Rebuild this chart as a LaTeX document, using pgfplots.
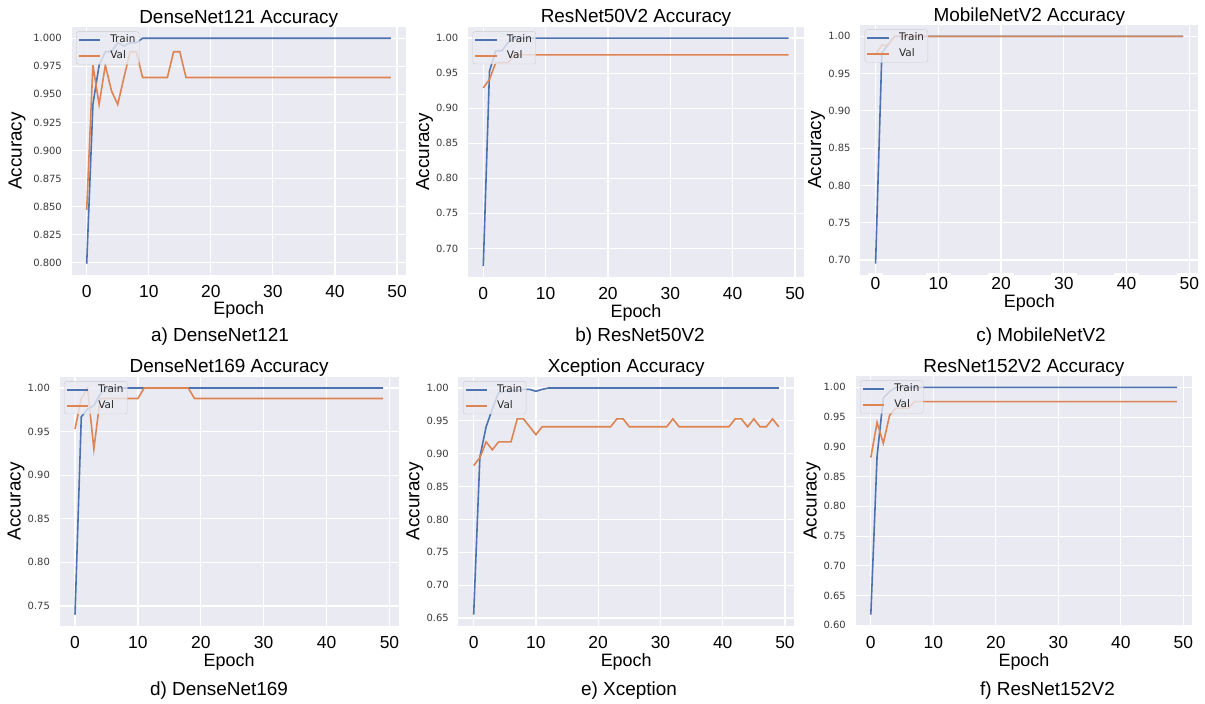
\documentclass[border=0pt]{standalone}
\usepackage{fontspec}
\setmainfont{Liberation Sans}
\newfontfamily\djv{DejaVu Sans}
\usepackage{pgfplots}
\pgfplotsset{compat=1.18}

\definecolor{sbbg}{HTML}{EAEAF2}
\definecolor{sbblue}{HTML}{4C72B0}
\definecolor{sborange}{HTML}{DD8452}
\definecolor{sbtick}{HTML}{3A3A3A}

\pgfplotsset{
  accpanel/.style={
    scale only axis, anchor=north west,
    xmin=-2.45, xmax=51.45, xtick={0,10,20,30,40,50},
    axis background/.style={fill=sbbg},
    axis line style={draw=none},
    major tick length=0pt,
    xmajorgrids, ymajorgrids,
    major grid style={white, line width=1.2bp},
    /pgf/number format/assume math mode=true,
    xticklabel style={font=\fontsize{17.5}{18}\selectfont, anchor=base, yshift=-22.5bp, inner sep=0pt},
    yticklabel style={font=\djv\fontsize{10}{12}\selectfont, text=sbtick, anchor=east, inner sep=0pt, xshift=-9.5bp,
      /pgf/number format/fixed, /pgf/number format/fixed zerofill, /pgf/number format/precision=2},
    title style={font=\fontsize{19}{21}\selectfont, at={(axis description cs:0.5,1)}, anchor=base, yshift=-2bp, inner sep=0pt},
    xlabel={Epoch}, ylabel={Accuracy},
    xlabel style={font=\fontsize{18}{20}\selectfont, at={(axis description cs:0.5,0)}, anchor=base, yshift=-40bp, inner sep=0pt},
    ylabel style={font=\fontsize{19}{20}\selectfont, inner sep=0pt, anchor=base, at={([xshift=-39bp]axis description cs:0,0.5)}},
    legend style={at={(axis description cs:0,1)}, anchor=north west, xshift=4.5bp, yshift=-4.5bp,
      fill=sbbg, fill opacity=0.8, text opacity=1, draw=black!20, rounded corners=2.5bp,
      font=\djv\fontsize{10.5}{12}\selectfont, text=black!85,
      inner xsep=1.5bp, inner ysep=1.5bp, row sep=2.4bp, column sep=7bp,
      nodes={inner xsep=2.3bp, inner ysep=2.3bp, text height=7.3bp, text depth=1.7bp}},
    legend cell align=left,
    legend image code/.code={\draw[#1, line width=1.8bp] (0bp,0bp) -- (21.5bp,0bp);},
    every axis plot/.append style={line width=1.6bp},
  },
  trainline/.style={sbblue},
  valline/.style={sborange},
}

\begin{document}
\begin{tikzpicture}
\useasboundingbox (0bp,0bp) rectangle (1205bp,704bp);

% a) DenseNet121
\begin{axis}[accpanel, at={(71.5bp,677bp)}, width=334.5bp, height=248bp,
  ymin=0.78895, ymax=1.01005,
  ytick={0.800,0.825,0.850,0.875,0.900,0.925,0.950,0.975,1.000},
  yticklabel style={/pgf/number format/precision=3},
  ylabel style={at={([xshift=-50bp]axis description cs:0,0.5)}},
  title={DenseNet121 Accuracy}]
\addplot[trainline] coordinates {(0,0.799)(1,0.941)(2,0.976)(3,0.988)(4,0.988)(5,0.996)(6,0.993)(7,0.996)(8,0.996)(9,1.0)(49,1.0)};
\addplot[valline] coordinates {(0,0.847)(1,0.976)(2,0.941)(3,0.976)(4,0.953)(5,0.941)(6,0.965)(7,0.988)(8,0.988)(9,0.965)(13,0.965)(14,0.988)(15,0.988)(16,0.965)(49,0.965)};
\legend{Train,Val}
\end{axis}

% b) ResNet50V2
\begin{axis}[accpanel, at={(468bp,677.3bp)}, width=336bp, height=250.6bp,
  ymin=0.65875, ymax=1.01625,
  ytick={0.70,0.75,0.80,0.85,0.90,0.95,1.00},
  title={ResNet50V2 Accuracy}]
\addplot[trainline] coordinates {(0,0.675)(1,0.953)(2,0.982)(3,0.982)(4,0.994)(5,1.0)(49,1.0)};
\addplot[valline] coordinates {(0,0.929)(1,0.941)(2,0.965)(3,0.965)(4,0.965)(5,0.976)(49,0.976)};
\legend{Train,Val}
\end{axis}

% c) MobileNetV2
\begin{axis}[accpanel, at={(860.2bp,679bp)}, width=338.2bp, height=250bp,
  ymin=0.67975, ymax=1.01525,
  ytick={0.70,0.75,0.80,0.85,0.90,0.95,1.00},
  xticklabel style={yshift=7.5bp, fill=white, inner xsep=3bp, inner ysep=5bp},
  xlabel style={yshift=7bp},
  title={MobileNetV2 Accuracy}]
\addplot[trainline] coordinates {(0,0.695)(1,0.978)(2,0.989)(3,1.0)(49,1.0)};
\addplot[valline] coordinates {(0,0.976)(1,0.988)(2,0.988)(3,1.0)(49,1.0)};
\legend{Train,Val}
\end{axis}

% d) DenseNet169
\begin{axis}[accpanel, at={(59.6bp,327.3bp)}, width=339bp, height=249.3bp,
  ymin=0.727, ymax=1.013,
  ytick={0.75,0.80,0.85,0.90,0.95,1.00},
  title={DenseNet169 Accuracy}]
\addplot[trainline] coordinates {(0,0.740)(1,0.967)(2,0.976)(3,0.980)(4,0.993)(5,1.0)(49,1.0)};
\addplot[valline] coordinates {(0,0.953)(1,0.988)(2,1.0)(3,0.930)(4,0.988)(10,0.988)(11,1.0)(18,1.0)(19,0.988)(49,0.988)};
\legend{Train,Val}
\end{axis}

% e) Xception
\begin{axis}[accpanel, at={(458.4bp,327.3bp)}, width=335.6bp, height=249.3bp,
  ymin=0.63775, ymax=1.01725,
  ytick={0.65,0.70,0.75,0.80,0.85,0.90,0.95,1.00},
  title={Xception Accuracy}]
\addplot[trainline] coordinates {(0,0.655)(1,0.895)(2,0.941)(3,0.968)(4,0.993)(5,0.995)(6,0.996)(7,0.996)(8,0.998)(9,0.998)(10,0.995)(11,0.998)(12,1.0)(49,1.0)};
\addplot[valline] coordinates {(0,0.882)(1,0.894)(2,0.918)(3,0.906)(4,0.918)(5,0.918)(6,0.918)(7,0.953)(8,0.953)(9,0.941)(10,0.929)(11,0.941)(22,0.941)(23,0.953)(24,0.953)(25,0.941)(31,0.941)(32,0.953)(33,0.941)(41,0.941)(42,0.953)(43,0.953)(44,0.941)(45,0.953)(46,0.941)(47,0.941)(48,0.953)(49,0.941)};
\legend{Train,Val}
\end{axis}

% f) ResNet152V2
\begin{axis}[accpanel, at={(855.5bp,328bp)}, width=336.9bp, height=250bp,
  ymin=0.5989, ymax=1.0191,
  ytick={0.60,0.65,0.70,0.75,0.80,0.85,0.90,0.95,1.00},
  title={ResNet152V2 Accuracy}]
\addplot[trainline] coordinates {(0,0.618)(1,0.884)(2,0.982)(3,0.993)(4,1.0)(49,1.0)};
\addplot[valline] coordinates {(0,0.882)(1,0.941)(2,0.906)(3,0.953)(4,0.965)(6,0.965)(7,0.976)(49,0.976)};
\legend{Train,Val}
\end{axis}

% panel captions
\begin{scope}[every node/.style={font=\fontsize{19}{21}\selectfont, anchor=base, inner sep=0pt}]
\node at (220bp,362bp) {a) DenseNet121};
\node at (640bp,362bp) {b) ResNet50V2};
\node at (1041bp,362bp) {c) MobileNetV2};
\node at (219bp,9bp) {d) DenseNet169};
\node at (629bp,9bp) {e) Xception};
\node at (1047.5bp,9bp) {f) ResNet152V2};
\end{scope}
\end{tikzpicture}
\end{document}
